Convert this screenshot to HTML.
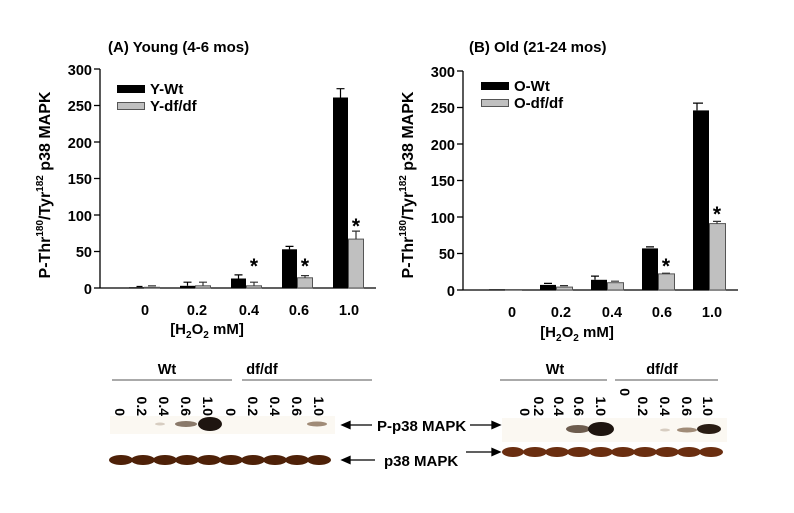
<!DOCTYPE html>
<html><head><style>body{margin:0;background:#fff}svg{display:block}text{font-family:"Liberation Sans",sans-serif;font-weight:bold}</style></head><body>
<svg width="794" height="513" viewBox="0 0 794 513" xmlns="http://www.w3.org/2000/svg">
<!-- Panel A -->
<text x="108" y="52" font-size="15">(A)  Young (4-6 mos)</text>
<g stroke="#000" stroke-width="1.3">
<line x1="100" y1="69" x2="100" y2="288"/><line x1="100" y1="288" x2="376" y2="288"/>
<line x1="94" y1="69" x2="100" y2="69"/><line x1="94" y1="105.5" x2="100" y2="105.5"/><line x1="94" y1="142" x2="100" y2="142"/><line x1="94" y1="178.5" x2="100" y2="178.5"/><line x1="94" y1="215" x2="100" y2="215"/><line x1="94" y1="251.5" x2="100" y2="251.5"/><line x1="94" y1="288" x2="100" y2="288"/>
</g>
<g font-size="14.5" text-anchor="end"><text x="92" y="75">300</text><text x="92" y="111">250</text><text x="92" y="148">200</text><text x="92" y="184">150</text><text x="92" y="221">100</text><text x="92" y="257">50</text><text x="92" y="294">0</text></g>
<text transform="translate(50,185) rotate(-90)" font-size="16" text-anchor="middle">P-Thr<tspan font-size="10" dy="-7">180</tspan><tspan dy="7">/Tyr</tspan><tspan font-size="10" dy="-7">182</tspan><tspan dy="7"> p38 MAPK</tspan></text>
<rect x="117" y="85" width="28" height="8" fill="#000"/><text x="150" y="94" font-size="15">Y-Wt</text>
<rect x="117.5" y="102.5" width="27" height="7" fill="#c0c0c0" stroke="#555"/><text x="150" y="111" font-size="15">Y-df/df</text>
<g fill="#000">
<rect x="129" y="287.3" width="15" height="0.7"/><rect x="180" y="285.8" width="15" height="2.2"/><rect x="231" y="278.5" width="15" height="9.5"/><rect x="282" y="249.3" width="15" height="38.7"/><rect x="333" y="97.5" width="15" height="190.5"/>
</g>
<g fill="#c0c0c0" stroke="#555" stroke-width="1">
<rect x="144.5" y="287.3" width="15" height="0.7"/><rect x="195.5" y="285.8" width="15" height="2.2"/><rect x="246.5" y="285.8" width="15" height="2.2"/><rect x="297.5" y="277.8" width="15" height="10.2"/><rect x="348.5" y="239.1" width="15" height="48.9"/>
</g>
<g stroke="#000" stroke-width="1.2">
<path d="M136.5 286.5h6M187.5 282.2v3.6M183.5 282.2h8M238.5 274.9v3.6M234.5 274.9h8M289.5 246.4v3M285.5 246.4h8M340.5 88.7v9M336.5 88.7h8"/>
<path d="M148 285.8h8M203 282.2v3.6M199 282.2h8M254 282.2v3.6M250 282.2h8M305 275.6v2.2M301 275.6h8M356 231.1v8M352 231.1h8" stroke="#333"/>
</g>
<g font-size="21" text-anchor="middle"><text x="254" y="273">*</text><text x="305" y="273">*</text><text x="356" y="233">*</text></g>
<g font-size="14.5" text-anchor="middle"><text x="145" y="315">0</text><text x="197" y="315">0.2</text><text x="249" y="315">0.4</text><text x="299" y="315">0.6</text><text x="349" y="315">1.0</text></g>
<text x="207" y="334" font-size="15" text-anchor="middle">[H<tspan font-size="10" dy="4">2</tspan><tspan dy="-4">O</tspan><tspan font-size="10" dy="4">2</tspan><tspan dy="-4"> mM]</tspan></text>

<!-- Panel B -->
<text x="469" y="52" font-size="15">(B)  Old (21-24 mos)</text>
<g stroke="#000" stroke-width="1.3">
<line x1="463" y1="71" x2="463" y2="290"/><line x1="463" y1="290" x2="738" y2="290"/>
<line x1="457" y1="71" x2="463" y2="71"/><line x1="457" y1="107.5" x2="463" y2="107.5"/><line x1="457" y1="144" x2="463" y2="144"/><line x1="457" y1="180.5" x2="463" y2="180.5"/><line x1="457" y1="217" x2="463" y2="217"/><line x1="457" y1="253.5" x2="463" y2="253.5"/><line x1="457" y1="290" x2="463" y2="290"/>
</g>
<g font-size="14.5" text-anchor="end"><text x="455" y="77">300</text><text x="455" y="113">250</text><text x="455" y="150">200</text><text x="455" y="186">150</text><text x="455" y="223">100</text><text x="455" y="259">50</text><text x="455" y="296">0</text></g>
<text transform="translate(413,185) rotate(-90)" font-size="16" text-anchor="middle">P-Thr<tspan font-size="10" dy="-7">180</tspan><tspan dy="7">/Tyr</tspan><tspan font-size="10" dy="-7">182</tspan><tspan dy="7"> p38 MAPK</tspan></text>
<rect x="481" y="82" width="28" height="8" fill="#000"/><text x="514" y="91" font-size="15">O-Wt</text>
<rect x="481.5" y="99.5" width="27" height="7" fill="#c0c0c0" stroke="#555"/><text x="514" y="108" font-size="15">O-df/df</text>
<g fill="#000">
<rect x="489" y="289.3" width="16" height="0.7"/><rect x="540" y="284.9" width="16" height="5.1"/><rect x="591" y="279.8" width="16" height="10.2"/><rect x="642" y="248.4" width="16" height="41.6"/><rect x="693" y="110.4" width="16" height="179.6"/>
</g>
<g fill="#c0c0c0" stroke="#555" stroke-width="1">
<rect x="505.5" y="289.6" width="16" height="0.4"/><rect x="556.5" y="287.1" width="16" height="2.9"/><rect x="607.5" y="282.7" width="16" height="7.3"/><rect x="658.5" y="273.9" width="16" height="16.1"/><rect x="709.5" y="223.6" width="16" height="66.4"/>
</g>
<g stroke="#000" stroke-width="1.2">
<path d="M544 283.4h8M595 276.1v3.7M591 276.1h8M646 246.9h8M697 103.1v7.3M693 103.1h10"/>
<path d="M560 285.6h8M611 281.2h8M662 273.2h8M717 221.4v2.2M713 221.4h8" stroke="#333"/>
</g>
<g font-size="21" text-anchor="middle"><text x="666" y="273">*</text><text x="717" y="221">*</text></g>
<g font-size="14.5" text-anchor="middle"><text x="512" y="317">0</text><text x="561" y="317">0.2</text><text x="612" y="317">0.4</text><text x="662" y="317">0.6</text><text x="712" y="317">1.0</text></g>
<text x="577" y="337" font-size="15" text-anchor="middle">[H<tspan font-size="10" dy="4">2</tspan><tspan dy="-4">O</tspan><tspan font-size="10" dy="4">2</tspan><tspan dy="-4"> mM]</tspan></text>

<!-- Left blot -->
<text x="167" y="374" font-size="14.5" text-anchor="middle">Wt</text>
<text x="262" y="374" font-size="14.5" text-anchor="middle">df/df</text>
<line x1="112" y1="380" x2="232" y2="380" stroke="#555"/><line x1="242" y1="380" x2="372" y2="380" stroke="#555"/>
<g font-size="14" text-anchor="end">
<text transform="translate(115,416) rotate(90)">0</text><text transform="translate(137,416) rotate(90)">0.2</text><text transform="translate(159,416) rotate(90)">0.4</text><text transform="translate(181,416) rotate(90)">0.6</text><text transform="translate(203,416) rotate(90)">1.0</text>
<text transform="translate(226,416) rotate(90)">0</text><text transform="translate(248,416) rotate(90)">0.2</text><text transform="translate(270,416) rotate(90)">0.4</text><text transform="translate(292,416) rotate(90)">0.6</text><text transform="translate(314,416) rotate(90)">1.0</text>
</g>
<rect x="110" y="416" width="225" height="18" fill="#fbf8f2"/>
<ellipse cx="160" cy="424" rx="5" ry="1.5" fill="#c0b0a0" opacity="0.6"/>
<ellipse cx="186" cy="424" rx="11" ry="3" fill="#5a4330" opacity="0.7"/>
<ellipse cx="210" cy="424" rx="12" ry="7" fill="#1e1510"/>
<ellipse cx="317" cy="424" rx="10" ry="2.5" fill="#8a6f58" opacity="0.8"/>
<g fill="#4e2108">
<ellipse cx="121" cy="460" rx="12" ry="5"/><ellipse cx="143" cy="460" rx="12" ry="5"/><ellipse cx="165" cy="460" rx="12" ry="5"/><ellipse cx="187" cy="460" rx="12" ry="5"/><ellipse cx="209" cy="460" rx="12" ry="5"/>
<ellipse cx="231" cy="460" rx="12" ry="5"/><ellipse cx="253" cy="460" rx="12" ry="5"/><ellipse cx="275" cy="460" rx="12" ry="5"/><ellipse cx="297" cy="460" rx="12" ry="5"/><ellipse cx="319" cy="460" rx="12" ry="5"/>
</g>
<!-- Right blot -->
<text x="555" y="374" font-size="14.5" text-anchor="middle">Wt</text>
<text x="662" y="374" font-size="14.5" text-anchor="middle">df/df</text>
<line x1="500" y1="380" x2="607" y2="380" stroke="#555"/><line x1="615" y1="380" x2="718" y2="380" stroke="#555"/>
<g font-size="14" text-anchor="end">
<text transform="translate(520,416) rotate(90)">0</text><text transform="translate(534,416) rotate(90)">0.2</text><text transform="translate(554,416) rotate(90)">0.4</text><text transform="translate(574,416) rotate(90)">0.6</text><text transform="translate(596,416) rotate(90)">1.0</text>
<text transform="translate(620,396) rotate(90)">0</text><text transform="translate(638,416) rotate(90)">0.2</text><text transform="translate(660,416) rotate(90)">0.4</text><text transform="translate(682,416) rotate(90)">0.6</text><text transform="translate(703,416) rotate(90)">1.0</text>
</g>
<rect x="502" y="418" width="225" height="24" fill="#fbf8f2"/>
<ellipse cx="578" cy="429" rx="12" ry="4" fill="#4a3524" opacity="0.8"/>
<ellipse cx="601" cy="429" rx="13" ry="7" fill="#1e1510"/>
<ellipse cx="665" cy="430" rx="5" ry="1.5" fill="#c0b0a0" opacity="0.6"/>
<ellipse cx="687" cy="430" rx="10" ry="2.5" fill="#8a6f58" opacity="0.8"/>
<ellipse cx="709" cy="429" rx="12" ry="5" fill="#2a1d14"/>
<g fill="#6a2e10">
<ellipse cx="513" cy="452" rx="11" ry="5"/><ellipse cx="535" cy="452" rx="12" ry="5"/><ellipse cx="557" cy="452" rx="12" ry="5"/><ellipse cx="579" cy="452" rx="12" ry="5"/><ellipse cx="601" cy="452" rx="12" ry="5"/>
<ellipse cx="623" cy="452" rx="12" ry="5"/><ellipse cx="645" cy="452" rx="12" ry="5"/><ellipse cx="667" cy="452" rx="12" ry="5"/><ellipse cx="689" cy="452" rx="12" ry="5"/><ellipse cx="711" cy="452" rx="12" ry="5"/>
</g>
<!-- labels & arrows -->
<g stroke="#000" stroke-width="1.3" fill="#000">
<line x1="348" y1="425" x2="372" y2="425"/><path d="M342 425l8-3.5v7z"/>
<line x1="348" y1="460" x2="375" y2="460"/><path d="M342 460l8-3.5v7z"/>
<line x1="470" y1="425" x2="494" y2="425"/><path d="M500 425l-8-3.5v7z"/>
<line x1="466" y1="452" x2="494" y2="452"/><path d="M500 452l-8-3.5v7z"/>
</g>
<text x="377" y="431" font-size="15">P-p38 MAPK</text>
<text x="384" y="466" font-size="15">p38 MAPK</text>
</svg>
</body></html>
